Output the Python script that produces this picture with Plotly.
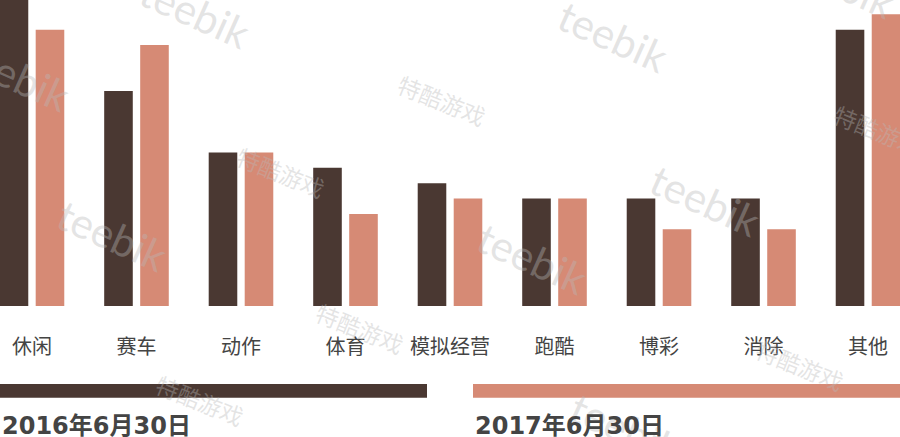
import plotly.graph_objects as go

categories = ["休闲", "赛车", "动作", "体育", "模拟经营", "跑酷", "博彩", "消除", "其他"]
series_2016 = [22, 14, 10, 9, 8, 7, 7, 7, 18]
series_2017 = [18, 17, 10, 6, 7, 7, 5, 5, 19]
series_names = ["2016年6月30日", "2017年6月30日"]

DARK = "#4a3832"
SALMON = "#d68a75"
W, H = 900, 437
PLOT_H = 306


def px(x, y):
    return x / W, (PLOT_H - y) / PLOT_H


fig = go.Figure()
fig.add_trace(go.Bar(x=categories, y=series_2016, name=series_names[0],
                     marker=dict(color=DARK, line=dict(width=0))))
fig.add_trace(go.Bar(x=categories, y=series_2017, name=series_names[1],
                     marker=dict(color=SALMON, line=dict(width=0))))

shapes = []
annotations = []

# watermarks
wm_color = "rgba(185,185,185,0.38)"
for (cx, cy) in [(195, 12), (15, 75), (613, 36), (705, 200), (112, 235), (532, 258), (625, 428), (840, -18)]:
    x, y = px(cx, cy)
    annotations.append(dict(text="teebik", x=x, y=y, xref="paper", yref="paper",
                            xanchor="center", yanchor="middle",
                            showarrow=False, textangle=24,
                            font=dict(family="Lato, Noto Sans", size=42, color=wm_color)))
for (cx, cy) in [(442, 100), (281, 172), (878, 130), (360, 328), (200, 400), (800, 365)]:
    x, y = px(cx, cy)
    annotations.append(dict(text="特酷游戏", x=x, y=y, xref="paper", yref="paper",
                            xanchor="center", yanchor="middle",
                            showarrow=False, textangle=22,
                            font=dict(family="Noto Sans CJK SC", size=23, color=wm_color)))

# custom legend
legend_items = [(0, 427, DARK), (473, 900, SALMON)]
for (name, (x0, x1, col)) in zip(series_names, legend_items):
    px0, py0 = px(x0, 384)
    px1, py1 = px(x1, 397.7)
    shapes.append(dict(type="rect", xref="paper", yref="paper", x0=px0, x1=px1,
                       y0=py1, y1=py0, fillcolor=col, line=dict(width=0), layer="above"))
    tx, ty = px(x0, 426)
    annotations.append(dict(text="<b>" + name + "</b>", x=tx, y=ty, xref="paper", yref="paper",
                            xanchor="left", yanchor="middle", showarrow=False,
                            font=dict(family="DejaVu Sans, Noto Sans CJK SC", size=24, color="#444444")))

fig.update_layout(
    width=W, height=H,
    margin=dict(l=0, r=0, t=0, b=H - PLOT_H, pad=0),
    paper_bgcolor="white", plot_bgcolor="white",
    barmode="group", bargap=0.311, bargroupgap=0.206,
    showlegend=False,
    shapes=shapes, annotations=annotations,
    xaxis=dict(range=[-0.306, 8.306], showgrid=False, zeroline=False, showline=False,
               ticks="", ticklabelstandoff=27,
               tickfont=dict(family="Noto Sans CJK SC", size=20, color="#444444")),
    yaxis=dict(range=[0, PLOT_H / 15.35], visible=False, showgrid=False, zeroline=False),
)

fig.write_html("out.html", config={"displayModeBar": False},
               post_script="document.body.style.margin='0';document.body.style.overflow='hidden';")
